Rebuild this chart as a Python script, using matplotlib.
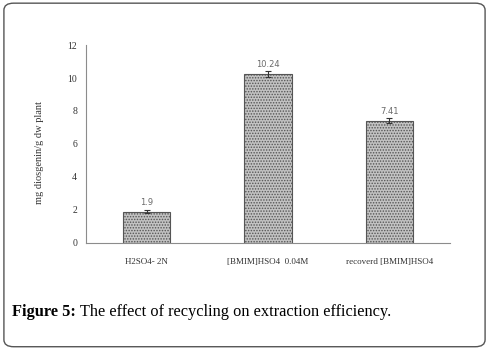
#!/usr/bin/env python3
"""Figure 5: effect of recycling on extraction efficiency."""

import matplotlib
matplotlib.use("Agg")
import matplotlib.pyplot as plt
from matplotlib.patches import FancyBboxPatch

CATEGORIES = ["H2SO4- 2N", "[BMIM]HSO4  0.04M", "recoverd [BMIM]HSO4"]
VALUES = [1.9, 10.24, 7.41]
ERRORS = [0.1, 0.2, 0.15]
VALUE_LABELS = ["1.9", "10.24", "7.41"]
Y_TICKS = [0, 2, 4, 6, 8, 10, 12]

SERIF = "Liberation Serif"
GRAY = "#8c8c8c"
TXT = "#333333"

plt.rcParams["hatch.color"] = "#606060"
plt.rcParams["hatch.linewidth"] = 0.7

fig = plt.figure(figsize=(4.89, 3.52), dpi=100)
ax = fig.add_axes([0.176, 0.310, 0.744, 0.562])

x = range(len(CATEGORIES))
ax.bar(x, VALUES, width=0.39, color="#c2c2c2", edgecolor="#555555",
       linewidth=0.8, hatch="......")
ax.errorbar(x, VALUES, yerr=ERRORS, fmt="none", ecolor="#333333",
            elinewidth=0.8, capsize=2, capthick=0.8)
for xi, v, lab in zip(x, VALUES, VALUE_LABELS):
    ax.text(xi, v + 0.3, lab, ha="center", va="bottom", fontsize=6,
            color="#6a6a6a", family="DejaVu Sans")

ax.set_xlim(-0.5, 2.5)
ax.set_ylim(0, 12)
ax.set_yticks(Y_TICKS)
ax.set_xticks(list(x))
ax.set_xticklabels(CATEGORIES, family=SERIF, fontsize=6.5, color=TXT)
ax.set_yticklabels([str(t) for t in Y_TICKS], family=SERIF, fontsize=7, color=TXT)
ax.tick_params(axis="y", length=0, pad=6.5)
ax.tick_params(axis="x", length=0, pad=11)
for s in ["top", "right"]:
    ax.spines[s].set_visible(False)
ax.spines["left"].set_color(GRAY)
ax.spines["bottom"].set_color(GRAY)
ax.set_ylabel("mg diosgenin/g dw plant", family=SERIF, fontsize=7.5, color=TXT)
ax.yaxis.set_label_coords(-0.115, 0.455)

# rounded frame around the whole figure
frame = FancyBboxPatch((0.008, 0.015), 0.984, 0.976,
                       boxstyle="round,pad=0,rounding_size=0.02",
                       transform=fig.transFigure, fill=False,
                       edgecolor="#555555", linewidth=1.0)
fig.patches.append(frame)

# caption: bold prefix + normal text
t1 = fig.text(0.025, 0.103, "Figure 5:", family=SERIF, fontsize=11.8,
              fontweight="bold", va="baseline")
fig.canvas.draw()
bb = t1.get_window_extent()
x2 = bb.x1 / fig.bbox.width
fig.text(x2, 0.103, " The effect of recycling on extraction efficiency.",
         family=SERIF, fontsize=11.8, va="baseline")

fig.savefig("out.png", dpi=100)
